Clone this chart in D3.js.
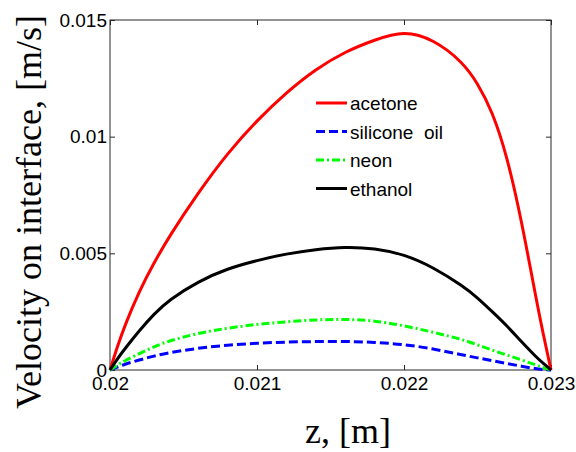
<!DOCTYPE html>
<html><head><meta charset="utf-8">
<script src="https://cdn.jsdelivr.net/npm/d3@7/dist/d3.min.js"></script>
<style>body{margin:0;background:#fff;} svg{display:block;}</style>
</head><body>
<svg id="chart" width="576" height="452"></svg>
<script>
const z = [0.0200, 0.02005, 0.0201, 0.0202, 0.0203, 0.0204, 0.0206, 0.0208, 0.0210, 0.0212, 0.0214, 0.0216, 0.0218, 0.0220, 0.0222, 0.0224, 0.0225, 0.0226, 0.0227, 0.0228, 0.0229, 0.02295, 0.0230];
const acetone = [0, 0.0010, 0.0019, 0.0034, 0.0046, 0.0057, 0.0076, 0.0093, 0.0107, 0.0119, 0.0129, 0.01365, 0.01415, 0.01455, 0.01418, 0.0132, 0.0123, 0.0111, 0.0092, 0.0064, 0.0030, 0.00145, 0];
const siliconeOil = [0, 0.00012, 0.00025, 0.00043, 0.0006, 0.00074, 0.00094, 0.00107, 0.00115, 0.0012, 0.00122, 0.00123, 0.00119, 0.0011, 0.00091, 0.00064, 0.00052, 0.0004, 0.00028, 0.00016, 0.00005, 0.00002, 0];
const neon = [0, 0.0002, 0.0004, 0.0007, 0.001, 0.00125, 0.00158, 0.0018, 0.00196, 0.00207, 0.00215, 0.00218, 0.00212, 0.0019, 0.00162, 0.0013, 0.00108, 0.00085, 0.00064, 0.00043, 0.00021, 0.0001, 0];
const ethanol = [0, 0.00048, 0.0009, 0.0017, 0.0024, 0.003, 0.0038, 0.00435, 0.0047, 0.00498, 0.00517, 0.00528, 0.00522, 0.00496, 0.0044, 0.0036, 0.0031, 0.0025, 0.0019, 0.0012, 0.00055, 0.00027, 0];
const seriesNames = ["acetone", "silicone  oil", "neon", "ethanol"];
const xTicks = [0.020, 0.021, 0.022, 0.023];
const xTickLabels = ["0.02", "0.021", "0.022", "0.023"];
const yTicks = [0, 0.005, 0.010, 0.015];
const yTickLabels = ["0", "0.005", "0.01", "0.015"];

const series = [
  {name: seriesNames[0], values: acetone, color: "#ff0000", dash: null},
  {name: seriesNames[1], values: siliconeOil, color: "#0000ff", dash: "9,4"},
  {name: seriesNames[2], values: neon, color: "#00ff00", dash: "8,3,2,3"},
  {name: seriesNames[3], values: ethanol, color: "#000000", dash: null}
];

const L = 110, R = 551, T = 20, B = 370;
const svg = d3.select("#chart");
const x = d3.scaleLinear().domain([0.020, 0.023]).range([L, R]);
const y = d3.scaleLinear().domain([0, 0.015]).range([B, T]);

const tickFont = "Liberation Sans, Arial, sans-serif";

svg.append("rect").attr("x", L).attr("y", T).attr("width", R - L).attr("height", B - T)
  .attr("fill", "none").attr("stroke", "#262626").attr("stroke-width", 1);

function styleAxis(g) {
  g.select(".domain").remove();
  g.selectAll(".tick line").attr("stroke", "#262626");
  g.selectAll("text").attr("font-family", tickFont).attr("font-size", 19).attr("fill", "#000");
}

svg.append("g").attr("transform", `translate(0,${B})`)
  .call(d3.axisBottom(x).tickValues(xTicks).tickSize(-5).tickPadding(7)
    .tickFormat((d, i) => xTickLabels[i]))
  .call(styleAxis);
svg.append("g").attr("transform", `translate(0,${T})`)
  .call(d3.axisTop(x).tickValues(xTicks).tickSize(-5).tickFormat(""))
  .call(styleAxis);
svg.append("g").attr("transform", `translate(${L},0)`)
  .call(d3.axisLeft(y).tickValues(yTicks).tickSize(-5).tickPadding(3)
    .tickFormat((d, i) => yTickLabels[i]))
  .call(styleAxis);
svg.append("g").attr("transform", `translate(${R},0)`)
  .call(d3.axisRight(y).tickValues(yTicks).tickSize(-5).tickFormat(""))
  .call(styleAxis);

const line = d3.line().x((d, i) => x(z[i])).y(d => y(d)).curve(d3.curveBasis);
series.forEach(s => {
  svg.append("path").datum(s.values)
    .attr("d", line)
    .attr("fill", "none")
    .attr("stroke", s.color)
    .attr("stroke-width", 3)
    .attr("stroke-dasharray", s.dash);
});

const legend = svg.append("g");
series.forEach((s, i) => {
  const yy = 103 + i * 28.5;
  legend.append("line").attr("x1", 316).attr("x2", 347).attr("y1", yy).attr("y2", yy)
    .attr("stroke", s.color).attr("stroke-width", 3).attr("stroke-dasharray", s.dash);
  legend.append("text").attr("x", 350).attr("y", yy + 7)
    .attr("font-family", tickFont).attr("font-size", 19)
    .style("white-space", "pre").text(s.name);
});

svg.append("text").attr("x", 348).attr("y", 443).attr("text-anchor", "middle")
  .attr("font-family", "Liberation Serif, Times New Roman, serif").attr("font-size", 36)
  .text("z, [m]");
svg.append("text").attr("transform", "translate(41,212) rotate(-90)").attr("text-anchor", "middle")
  .attr("font-family", "Liberation Serif, Times New Roman, serif").attr("font-size", 36)
  .text("Velocity on interface, [m/s]");
</script>
</body></html>
